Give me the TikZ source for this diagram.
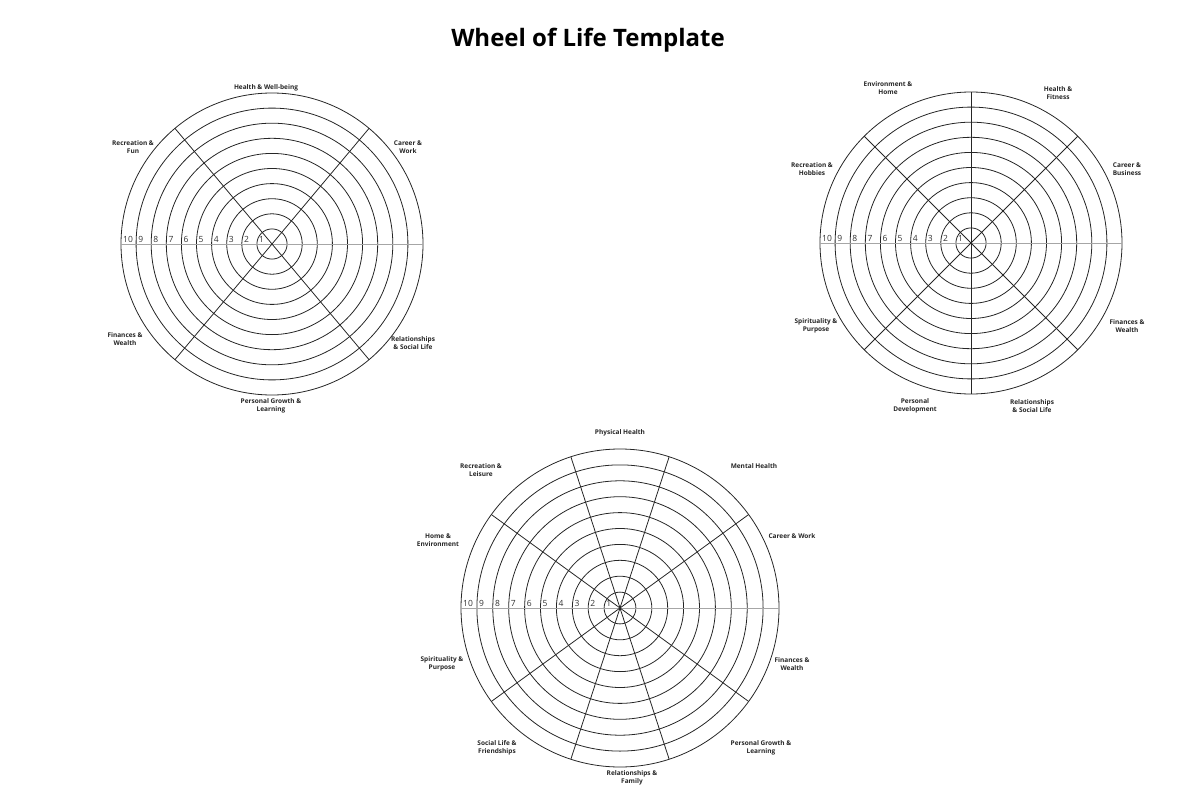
\documentclass[tikz,border=0pt]{standalone}
\usepackage{fontspec}
\setmainfont{Open Sans}
\usetikzlibrary{calc}
\begin{document}
\begin{tikzpicture}[x=1pt,y=-1pt,
  lab/.style={font=\fontsize{6.5}{8}\selectfont\bfseries,align=center,text=black!85},
  num/.style={font=\fontsize{8.5}{9}\selectfont,text=black!80,anchor=south west,inner sep=0pt},
  ring/.style={draw=black!85,line width=0.8pt},
  spoke/.style={draw=black!85,line width=0.8pt},
  axis/.style={draw=black!35,line width=0.8pt}]
\useasboundingbox (0,0) rectangle (1200,800);
\node[font=\fontsize{24}{28}\selectfont\bfseries] (title) at (588,40) {Wheel of Life Template};
% wheel generator
\newcommand{\mywheel}[4]{% name, cx, cy, r
  \coordinate (#1c) at (#2,#3);
  \foreach \k in {1,...,10}{
    \draw[ring] (#1c) circle ({#4*\k/10});
    \node[num] (#1n\k) at ({#2-#4*\k/10+2},{#3-1.5}) {\k};
  }
  \draw[axis] ({#2-#4},#3) -- ({#2+#4},#3);
}
% wheel 1
\mywheel{a}{272}{244}{151}
\foreach \a in {50,130}{\draw[spoke] ($(ac)+(\a:151)$) -- ($(ac)+(\a+180:151)$);}
\node[lab] (a1) at (266,88) {Health \& Well-being};
\node[lab] (a2) at (133,147) {Recreation \&\\Fun};
\node[lab] (a3) at (408,147) {Career \&\\Work};
\node[lab] (a4) at (125,339) {Finances \&\\Wealth};
\node[lab] (a5) at (413,343) {Relationships\\\& Social Life};
\node[lab] (a6) at (271,406) {Personal Growth \&\\Learning};
% wheel 2
\mywheel{b}{971}{243}{151}
\foreach \a in {45,90,135}{\draw[spoke] ($(bc)+(\a:151)$) -- ($(bc)+(\a+180:151)$);}
\node[lab] (b1) at (888,88) {Environment \&\\Home};
\node[lab] (b2) at (1058,93) {Health \&\\Fitness};
\node[lab] (b3) at (812,169) {Recreation \&\\Hobbies};
\node[lab] (b4) at (1127,169) {Career \&\\Business};
\node[lab] (b5) at (816,326) {Spirituality \&\\Purpose};
\node[lab] (b6) at (1127,326) {Finances \&\\Wealth};
\node[lab] (b7) at (915,406) {Personal\\Development};
\node[lab] (b8) at (1032,406) {Relationships\\\& Social Life};
% wheel 3
\mywheel{c}{620}{608}{159}
\foreach \a in {36,72,108,144}{\draw[spoke] ($(cc)+(\a:159)$) -- ($(cc)+(\a+180:159)$);}
\node[lab] (c1) at (620,433) {Physical Health};
\node[lab] (c2) at (754,466) {Mental Health};
\node[lab] (c3) at (481,470) {Recreation \&\\Leisure};
\node[lab] (c4) at (792,536) {Career \& Work};
\node[lab] (c5) at (438,540) {Home \&\\Environment};
\node[lab] (c6) at (792,664) {Finances \&\\Wealth};
\node[lab] (c7) at (442,664) {Spirituality \&\\Purpose};
\node[lab] (c8) at (761,748) {Personal Growth \&\\Learning};
\node[lab] (c9) at (497,748) {Social Life \&\\Friendships};
\node[lab] (c10) at (632,778) {Relationships \&\\Family};
\end{tikzpicture}
\end{document}
